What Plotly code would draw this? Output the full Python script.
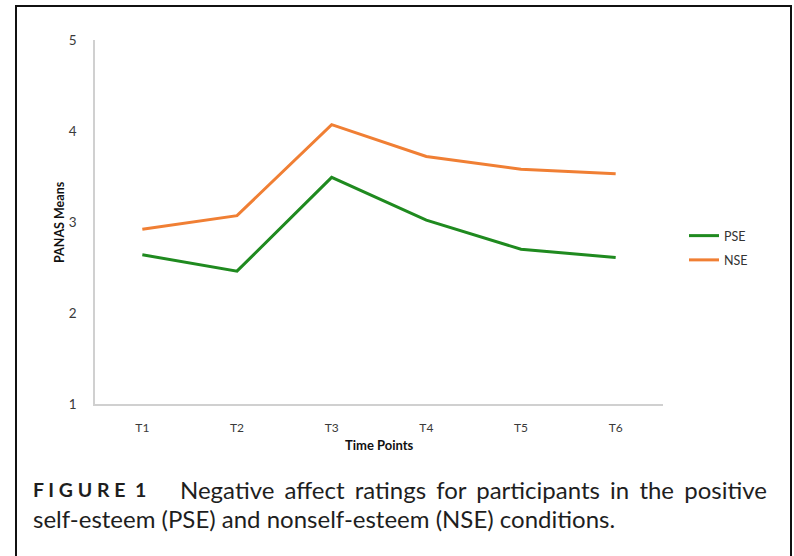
import plotly.graph_objects as go

categories = ["T1", "T2", "T3", "T4", "T5", "T6"]
pse_values = [2.64, 2.46, 3.49, 3.02, 2.70, 2.61]
nse_values = [2.92, 3.07, 4.07, 3.72, 3.58, 3.53]
y_ticks = [1, 2, 3, 4, 5]

W, H = 794, 556
L, R, T, B = 95, 131, 40, 152

fig = go.Figure()
fig.add_trace(go.Scatter(x=categories, y=pse_values, mode="lines", name="PSE",
                         line=dict(color="#1f8a1f", width=3), legendgroup="a"))
fig.add_trace(go.Scatter(x=categories, y=nse_values, mode="lines", name="NSE",
                         line=dict(color="#f07f34", width=3), legendgroup="b"))

def px_x(px):
    return (px - L) / (W - L - R)

def px_y(py):
    return 1 - (py - T) / (H - T - B)

cap_font = dict(family="Lato", size=24, color="#1e1e1e")
line1 = "Negative affect ratings for participants in the positive".replace(" ", " \u2006")
annotations = [
    dict(text="<b>PANAS Means</b>", x=px_x(59), y=px_y(222), xref="paper", yref="paper",
         textangle=-90, showarrow=False, font=dict(family="Lato", size=12.5, color="#111"),
         xanchor="center", yanchor="middle"),
    dict(text="<b>Time Points</b>", x=px_x(379), y=px_y(445), xref="paper", yref="paper",
         showarrow=False, font=dict(family="Lato", size=13, color="#111"),
         xanchor="center", yanchor="middle"),
    dict(text="<b>F I G U R E  1</b>", x=px_x(31), y=px_y(489), xref="paper", yref="paper",
         showarrow=False, font=dict(family="Lato", size=19.5, color="#1e1e1e"),
         xanchor="left", yanchor="middle"),
    dict(text=line1, x=px_x(769), y=px_y(489),
         xref="paper", yref="paper", showarrow=False,
         font=cap_font, xanchor="right", yanchor="middle"),
    dict(text="self-esteem (PSE) and nonself-esteem (NSE) conditions.", x=px_x(31), y=px_y(518),
         xref="paper", yref="paper", showarrow=False,
         font=cap_font, xanchor="left", yanchor="middle"),
]

shapes = [
    dict(type="rect", xref="paper", yref="paper", x0=px_x(16), x1=px_x(791), y0=px_y(580), y1=px_y(6),
         line=dict(color="#111", width=2), fillcolor="rgba(0,0,0,0)", layer="below"),
]

fig.update_layout(
    width=W, height=H,
    margin=dict(l=L, r=R, t=T, b=B, autoexpand=False),
    paper_bgcolor="white", plot_bgcolor="white",
    font=dict(family="Lato", size=11, color="#333"),
    xaxis=dict(range=[-0.5, 5.5], showgrid=False, showline=True, linecolor="#d0d0d0", linewidth=1.5,
               ticks="", tickfont=dict(family="Lato", size=12, color="#3a3a3a"), ticklabelstandoff=12,
               zeroline=False),
    yaxis=dict(range=[1, 5], tickvals=y_ticks, showgrid=False, showline=True, linecolor="#d0d0d0",
               linewidth=1.5, ticks="", tickfont=dict(family="Lato", size=13.5, color="#3a3a3a"),
               ticklabelstandoff=14, zeroline=False),
    legend=dict(x=px_x(684), y=px_y(221), xanchor="left", yanchor="top",
                font=dict(family="Lato", size=12.5, color="#333"), tracegroupgap=5,
                itemwidth=30, bgcolor="rgba(0,0,0,0)"),
    annotations=annotations,
    shapes=shapes,
    showlegend=True,
)

fig.write_html("out.html", config={"displayModeBar": False},
               post_script="document.body.style.margin='0';")
